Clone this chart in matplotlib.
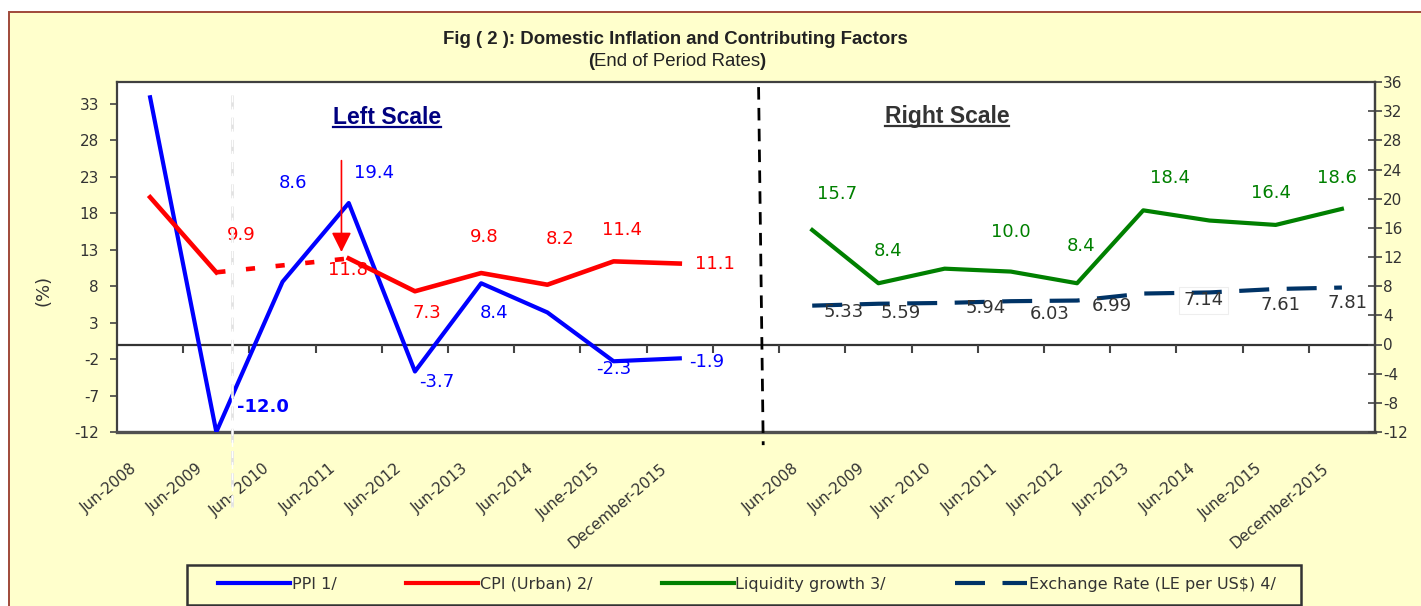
import numpy as np
import matplotlib
matplotlib.use('Agg')
import matplotlib.pyplot as plt
from matplotlib.lines import Line2D
from matplotlib.patches import Rectangle

plt.rcParams['font.family'] = ['DejaVu Sans']
plt.rcParams['axes.unicode_minus'] = False

# ---- data ----
periods = ['Jun-2008', 'Jun-2009', 'Jun- 2010', 'Jun-2011', 'Jun-2012',
           'Jun-2013', 'Jun-2014', 'June-2015', 'December-2015']

ppi = [33.9, -12.0, 8.6, 19.4, -3.7, 8.4, 4.4, -2.3, -1.9]           # left scale
cpi = [20.2, 9.9, np.nan, 11.8, 7.3, 9.8, 8.2, 11.4, 11.1]          # left scale
liquidity = [15.7, 8.4, 10.4, 10.0, 8.4, 18.4, 17.0, 16.4, 18.6]    # right scale
exchange = [5.33, 5.59, 5.70, 5.94, 6.03, 6.99, 7.14, 7.61, 7.81]   # right scale

# value labels: point index -> text offset in pixels
ppi_lab = {1: (47, 25), 2: (10, 99), 3: (25, 30), 4: (22, -11), 5: (13, -30), 7: (0, -8), 8: (27, -4)}
cpi_lab = {1: (25, 37), 3: (-1, -12), 4: (12, -22), 5: (3, 36), 6: (13, 46), 7: (8, 31), 8: (35, 0)}
liq_lab = {0: (25, 36), 1: (10, 32), 3: (0, 40), 4: (4, 37), 5: (27, 32), 7: (-5, 32), 8: (-5, 31)}
exc_lab = {0: (31, -6), 1: (22, -9), 3: (-25, -7), 4: (-27, -13), 5: (-31, -12), 6: (-6, -8), 7: (5, -16), 8: (6, -15)}

BLUE, RED, GREEN, NAVY = '#0000FF', '#FF0000', '#008000', '#003366'
DARK = '#333333'
BG = '#FFFFCC'
NUM_FS = 13

x_left = np.arange(len(ppi))
x_right = np.arange(len(liquidity)) + len(ppi) + 1

fig = plt.figure(figsize=(14.21, 6.06), dpi=100)
fig.patch.set_facecolor('white')
fig.add_artist(Rectangle((9 / 1421, -0.02), 1.0, 1 - 12 / 606 + 0.02, transform=fig.transFigure,
                         facecolor=BG, edgecolor='#A04A3A', lw=1.4, zorder=-1))

ax = fig.add_axes([117 / 1421, 1 - 432 / 606, (1375 - 117) / 1421, (432 - 82) / 606])
ax2 = ax.twinx()
for a in (ax, ax2):
    a.set_ylim(-12, 36)
ax.set_xlim(-0.5, 18.5)
ax.set_facecolor('white')
ax2.patch.set_visible(False)

# left scale series
ax.plot(x_left, ppi, color=BLUE, lw=3, zorder=4)
ax.plot(x_left, cpi, color=RED, lw=3.3, zorder=4)
ax.plot([x_left[1], x_left[3]], [cpi[1], cpi[3]], color=RED, lw=3.3, dashes=(2, 4.5), zorder=4)

# right scale series
ax2.plot(x_right, liquidity, color=GREEN, lw=3, zorder=4)
ax2.plot(x_right, exchange, color=NAVY, lw=3, dashes=(7.2, 4.2), zorder=4)

def add_labels(a, xs, vals, offs, color, fmt, **kw):
    for i, (dx, dy) in offs.items():
        a.annotate(fmt.format(vals[i]), (xs[i], vals[i]), xytext=(dx, dy),
                   textcoords='offset pixels', ha='center', va='center',
                   fontsize=NUM_FS, color=color, zorder=6, **kw)

add_labels(ax, x_left, ppi, {k: v for k, v in ppi_lab.items() if k != 1}, BLUE, '{:.1f}')
add_labels(ax, x_left, ppi, {1: ppi_lab[1]}, BLUE, '{:.1f}', fontweight='bold')
add_labels(ax, x_left, cpi, cpi_lab, RED, '{:.1f}')
add_labels(ax2, x_right, liquidity, liq_lab, GREEN, '{:.1f}')
add_labels(ax2, x_right, exchange, {k: v for k, v in exc_lab.items() if k != 6}, DARK, '{:.2f}')
add_labels(ax2, x_right, exchange, {6: exc_lab[6]}, DARK, '{:.2f}',
           bbox=dict(boxstyle='square,pad=0.25', fc='none', ec='#eeeeee', lw=0.8))

# zero line with category separators
ax.axhline(0, color=DARK, lw=1.6, zorder=3)
ax.vlines(np.arange(0.5, 18), -1.1, 0, color='#444444', lw=1.5, zorder=3)

# red arrow pointing at the 2011 CPI point
ax.annotate('', xy=(2.89, 12.3), xytext=(2.89, 25.6),
            arrowprops=dict(arrowstyle='-|>,head_length=0.6,head_width=0.3',
                            color=RED, lw=1.2, mutation_scale=20), zorder=7)

# divider between left and right scale parts
ax.plot([9.19, 9.26], [35.3, -13.8], color='black', lw=2, dashes=(4.5, 3), clip_on=False, zorder=5)

# faint white dashed line near Jun-2010
for c, w in (('#e2e2e2', 2.0), ('white', 1.0)):
    ax.plot([1.235, 1.235], [34.2, -22.3], color=c, lw=w, dashes=(5, 3), clip_on=False, zorder=8)

# axes styling
for s in ('top', 'left', 'right'):
    ax.spines[s].set_color('#404040')
    ax.spines[s].set_linewidth(1.6)
ax.spines['bottom'].set_color('#505050')
ax.spines['bottom'].set_linewidth(2.4)
for s in ('top', 'left', 'bottom'):
    ax2.spines[s].set_visible(False)
ax2.spines['right'].set_color('#404040')
ax2.spines['right'].set_linewidth(1.6)

ax.set_yticks(np.arange(-12, 34, 5))
ax.tick_params(axis='y', direction='out', length=5, width=1.2, color='#444444',
               labelsize=11, labelcolor=DARK, pad=8)
ax2.set_yticks(np.arange(-12, 37, 4))
ax2.tick_params(axis='y', direction='inout', length=9.5, width=1.2, color='#444444',
                labelsize=11, labelcolor=DARK, pad=1)

# category labels below the plot
ax.set_xticks([])
for i, name in enumerate(periods + [''] + periods):
    ax.annotate(name, (i, 0), xycoords=ax.get_xaxis_transform(), xytext=(-20, -29),
                textcoords='offset pixels', rotation=40, rotation_mode='anchor',
                ha='right', va='top', fontsize=11, color=DARK, annotation_clip=False)

# titles and scale captions
fig.text(675 / 1421, 1 - 40 / 606, 'Fig ( 2 ): Domestic Inflation and Contributing Factors',
         ha='center', va='center', fontsize=13.4, fontweight='bold', color='#222222',
         family='Liberation Sans')
sub = fig.text(677 / 1421, 1 - 62 / 606, 'End of Period Rates', ha='center', va='center',
               fontsize=13.4, color='#222222', family='Liberation Sans')
fig.text(43 / 1421, 1 - 290 / 606, '(%)', rotation=90, ha='center', va='center',
         fontsize=13, color=DARK)

left_cap = fig.text(387 / 1421, 1 - 118 / 606, 'Left Scale', ha='center', va='center',
                    fontsize=16.5, fontweight='bold', color='#000080', family='Liberation Sans')
right_cap = fig.text(947 / 1421, 1 - 117 / 606, 'Right Scale', ha='center', va='center',
                     fontsize=16.5, fontweight='bold', color=DARK, family='Liberation Sans')

# legend: frame drawn separately, entries spread inside it
fig.add_artist(Rectangle((187 / 1421, 1 / 606), (1301 - 187) / 1421, 40 / 606,
                         transform=fig.transFigure, facecolor=BG, edgecolor='#333333',
                         lw=1.8, zorder=1))
handles = [Line2D([], [], color=BLUE, lw=3),
           Line2D([], [], color=RED, lw=3),
           Line2D([], [], color=GREEN, lw=3),
           Line2D([], [], color=NAVY, lw=3, dashes=(7.2, 4.2))]
names = ['PPI 1/', 'CPI (Urban) 2/', 'Liquidity growth 3/', 'Exchange Rate (LE per US$) 4/']
leg = fig.legend(handles, names, loc='center left', ncol=4, mode='expand',
                 bbox_to_anchor=(215 / 1421, 1 - 584 / 606, 1064 / 1421, 0),
                 borderaxespad=0, handlelength=4.5, handletextpad=0.1, fontsize=11.5,
                 labelcolor=DARK, frameon=False, borderpad=0.2)
leg.set_zorder(2)

# underline captions and bold brackets around subtitle
fig.canvas.draw()
r = fig.canvas.get_renderer()
inv = fig.transFigure.inverted()
for t, c in ((left_cap, '#000080'), (right_cap, DARK)):
    bb = t.get_window_extent(r)
    (x0, y0), (x1, _) = inv.transform([(bb.x0, bb.y0 + 2.5), (bb.x1, bb.y0 + 2.5)])
    fig.add_artist(Line2D([x0, x1], [y0, y0], color=c, lw=1.6, transform=fig.transFigure))
bb = sub.get_window_extent(r)
(xl, _), (xr, _) = inv.transform([(bb.x0, 0), (bb.x1, 0)])
fig.text(xl, 1 - 62 / 606, '(', ha='right', va='center', fontsize=13.4, fontweight='bold',
         color='#222222', family='Liberation Sans')
fig.text(xr, 1 - 62 / 606, ')', ha='left', va='center', fontsize=13.4, fontweight='bold',
         color='#222222', family='Liberation Sans')

fig.savefig('out.png', dpi=100)
